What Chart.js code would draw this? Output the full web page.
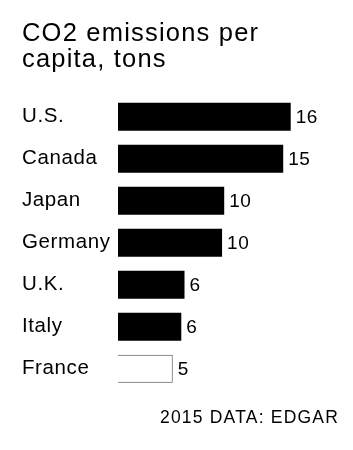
<!DOCTYPE html>
<html><head><meta charset="utf-8">
<script src="https://cdn.jsdelivr.net/npm/chart.js@4/dist/chart.umd.min.js"></script>
<style>html,body{margin:0;padding:0;background:#fff;}#wrap{width:353px;height:450px;}</style>
</head><body><div id="wrap"><canvas id="c" width="353" height="450"></canvas></div>
<script>
const categories = ['U.S.', 'Canada', 'Japan', 'Germany', 'U.K.', 'Italy', 'France'];
const emissions = [16.1, 15.4, 9.9, 9.7, 6.2, 5.9, 5.1];
const titleLines = ['CO2 emissions per', 'capita, tons'];
const footerText = '2015 DATA: EDGAR';
const xMin = 0;
const xMax = 20.6;

const FONT = "'Liberation Sans', Arial, Helvetica, sans-serif";

const labelPlugin = {
  id: 'labelsAndSpacing',
  beforeDraw(chart) {
    chart.ctx.letterSpacing = '1.2px';
  },
  afterDatasetsDraw(chart) {
    const ctx = chart.ctx;
    const meta = chart.getDatasetMeta(0);
    ctx.save();
    ctx.letterSpacing = '0.5px';
    ctx.font = '19px ' + FONT;
    ctx.fillStyle = '#000';
    ctx.textAlign = 'left';
    ctx.textBaseline = 'middle';
    meta.data.forEach((bar, i) => {
      ctx.fillText(String(Math.round(emissions[i])), bar.x + 5, bar.y + 1);
    });
    ctx.restore();
    ctx.letterSpacing = '0.6px';
  },
  afterDraw(chart) {
    chart.ctx.letterSpacing = '0px';
  }
};

new Chart(document.getElementById('c'), {
  type: 'bar',
  data: {
    labels: categories,
    datasets: [{
      data: emissions,
      backgroundColor: ['#000', '#000', '#000', '#000', '#000', '#000', '#fff'],
      borderColor: ['#000', '#000', '#000', '#000', '#000', '#000', '#444'],
      borderWidth: [0, 0, 0, 0, 0, 0, 1],
      barPercentage: 0.667,
      categoryPercentage: 1
    }]
  },
  options: {
    indexAxis: 'y',
    responsive: false,
    animation: false,
    layout: { padding: { top: 0, left: 22, right: 14, bottom: 0 } },
    plugins: {
      legend: { display: false },
      tooltip: { enabled: false },
      title: {
        display: true,
        text: titleLines,
        align: 'start',
        color: '#000',
        font: { family: FONT, size: 25.5, weight: 'normal', lineHeight: 1.02 },
        padding: { top: 21, bottom: 22.7 }
      },
      subtitle: {
        display: true,
        text: footerText,
        position: 'bottom',
        align: 'end',
        color: '#000',
        font: { family: FONT, size: 17.5, weight: 'normal', lineHeight: 1.2 },
        padding: { top: 18.2, bottom: 21.0 }
      }
    },
    scales: {
      x: { display: false, min: xMin, max: xMax },
      y: {
        grid: { display: false },
        border: { display: false },
        ticks: {
          crossAlign: 'far',
          color: '#000',
          padding: 0,
          z: 1,
          font: { family: FONT, size: 20.5 }
        },
        afterFit(scale) { scale.width = 96; }
      }
    }
  },
  plugins: [labelPlugin]
});
</script>
</body></html>
